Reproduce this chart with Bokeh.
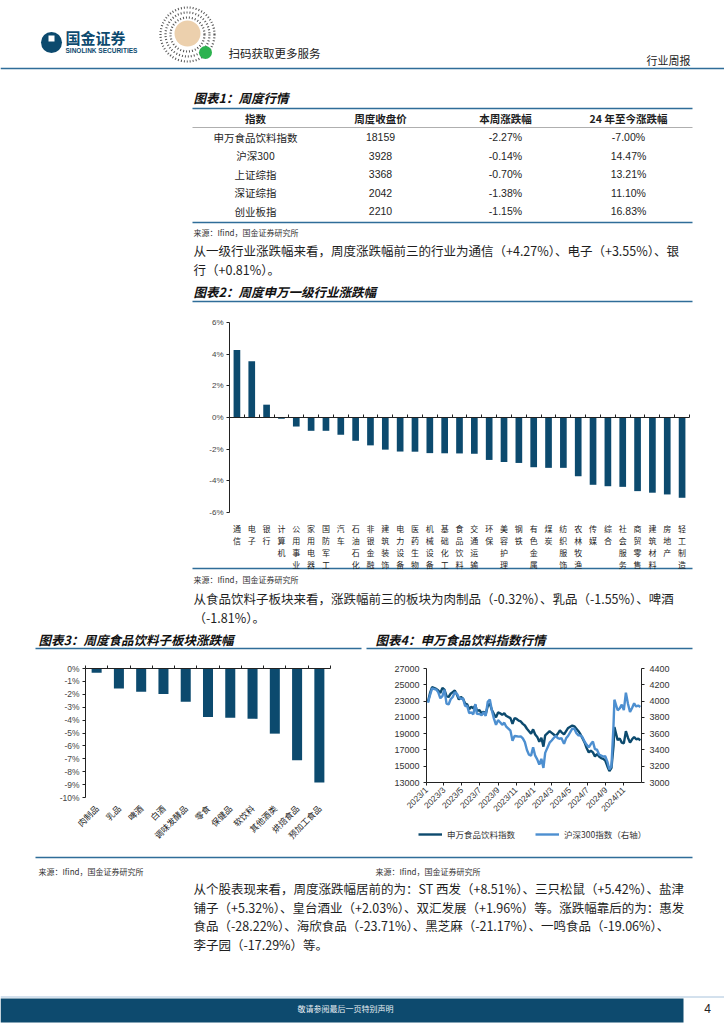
import math
from bokeh.plotting import figure
from bokeh.models import (Range1d, LinearAxis, FixedTicker, PrintfTickFormatter,
                          CustomJSTickFormatter, Legend, LegendItem)
from bokeh.core.properties import value
from bokeh.embed import file_html
from bokeh.resources import INLINE
import pandas as pd

# ---------------- data ----------------
table_headers = ["指数", "周度收盘价", "本周涨跌幅", "24 年至今涨跌幅"]
table_names = ["申万食品饮料指数", "沪深300", "上证综指", "深证综指", "创业板指"]
table_close = ["18159", "3928", "3368", "2042", "2210"]
table_week = ["-2.27%", "-0.14%", "-0.70%", "-1.38%", "-1.15%"]
table_ytd = ["-7.00%", "14.47%", "13.21%", "11.10%", "16.83%"]

industries = ["通信", "电子", "银行", "计算机", "公用事业", "家用电器", "国防军工", "汽车",
              "石油石化", "非银金融", "建筑装饰", "电力设备", "医药生物", "机械设备", "基础化工",
              "食品饮料", "交通运输", "环保", "美容护理", "钢铁", "有色金属", "煤炭", "纺织服饰",
              "农林牧渔", "传媒", "综合", "社会服务", "商贸零售", "建筑材料", "房地产", "轻工制造"]
industry_chg = [4.27, 3.55, 0.81, -0.08, -0.57, -0.84, -0.84, -1.09, -1.47, -1.76, -2.03,
                -2.15, -2.16, -2.25, -2.26, -2.27, -2.29, -2.68, -2.81, -2.87, -3.14, -3.18,
                -3.18, -3.71, -4.25, -4.34, -4.38, -4.65, -4.75, -4.86, -5.07]

sub_sectors = ["肉制品", "乳品", "啤酒", "白酒", "调味发酵品", "零食", "保健品", "软饮料",
               "其他酒类", "烘焙食品", "预加工食品"]
sub_chg = [-0.32, -1.55, -1.81, -1.97, -2.57, -3.75, -3.82, -3.90, -5.05, -7.11, -8.84]

weeks = ["2023-01-06", "2023-01-13", "2023-01-20", "2023-02-03", "2023-02-10", "2023-02-17",
         "2023-02-24", "2023-03-03", "2023-03-10", "2023-03-17", "2023-03-24", "2023-03-31",
         "2023-04-07", "2023-04-14", "2023-04-21", "2023-04-28", "2023-05-05", "2023-05-12",
         "2023-05-19", "2023-05-26", "2023-06-02", "2023-06-09", "2023-06-16", "2023-06-21",
         "2023-06-30", "2023-07-07", "2023-07-14", "2023-07-21", "2023-07-28", "2023-08-04",
         "2023-08-11", "2023-08-18", "2023-08-25", "2023-09-01", "2023-09-08", "2023-09-15",
         "2023-09-22", "2023-09-28", "2023-10-13", "2023-10-20", "2023-10-27", "2023-11-03",
         "2023-11-10", "2023-11-17", "2023-11-24", "2023-12-01", "2023-12-08", "2023-12-15",
         "2023-12-22", "2023-12-29",
         "2024-01-05", "2024-01-12", "2024-01-19", "2024-01-26", "2024-02-02", "2024-02-08",
         "2024-02-23", "2024-03-01", "2024-03-08", "2024-03-15", "2024-03-22", "2024-03-29",
         "2024-04-03", "2024-04-12", "2024-04-19", "2024-04-26", "2024-05-10", "2024-05-17",
         "2024-05-24", "2024-05-31", "2024-06-07", "2024-06-14", "2024-06-21", "2024-06-28",
         "2024-07-05", "2024-07-12", "2024-07-19", "2024-07-26", "2024-08-02", "2024-08-09",
         "2024-08-16", "2024-08-23", "2024-08-30", "2024-09-06", "2024-09-13", "2024-09-20",
         "2024-09-27", "2024-09-30", "2024-10-11", "2024-10-18", "2024-10-25", "2024-11-01",
         "2024-11-08", "2024-11-15", "2024-11-22", "2024-11-29", "2024-12-06", "2024-12-13",
         "2024-12-20", "2024-12-27"]
food_index = [22900, 24000, 24700, 24500, 24300, 24000, 24600, 24400, 23600, 23500, 23900, 24100,
              24300, 23800, 23200, 23500, 23300, 22700, 22600, 22000, 22300, 22100, 22500, 21800,
              21900, 21500, 21700, 21400, 22400, 22700, 21900, 21400, 21000, 21600, 21500, 21300,
              21500, 21200, 20900, 20200, 20900, 20800, 20600, 20500, 20200, 20000, 19600, 19300,
              19000, 19526,
              18900, 18600, 18000, 18500, 17400, 18800, 19300, 19100, 18900, 18700, 19000, 19400,
              19200, 18900, 19300, 19700, 20000, 19900, 19600, 19300, 18900, 18400, 17900, 17200,
              16700, 16900, 16700, 16200, 16500, 16200, 16000, 15900, 15700, 15000, 14400, 14800,
              17500, 19800, 18200, 18400, 17900, 17800, 19300, 18500, 17900, 18300, 18600, 18300,
              18400, 18159]
csi300 = [3980, 4074, 4156, 4141, 4107, 4034, 4061, 4141, 3968, 3958, 4022, 4051,
          4108, 4091, 4044, 4029, 4033, 3939, 3944, 3850, 3862, 3837, 3963, 3844,
          3842, 3826, 3862, 3818, 3992, 4020, 3884, 3784, 3709, 3765, 3740, 3708,
          3735, 3690, 3637, 3514, 3571, 3568, 3564, 3566, 3542, 3496, 3399, 3341,
          3330, 3431,
          3329, 3284, 3219, 3290, 3179, 3364, 3489, 3516, 3546, 3573, 3545, 3537,
          3546, 3475, 3542, 3574, 3661, 3660, 3605, 3579, 3578, 3553, 3500, 3462,
          3432, 3472, 3502, 3409, 3402, 3344, 3331, 3318, 3322, 3257, 3160, 3201,
          3703, 4017, 3887, 3910, 3957, 3890, 4104, 3968, 3865, 3916, 3973, 3933,
          3946, 3928]
date_ticks = ["2023-01-01", "2023-03-01", "2023-05-01", "2023-07-01", "2023-09-01", "2023-11-01",
              "2024-01-01", "2024-03-01", "2024-05-01", "2024-07-01", "2024-09-01", "2024-11-01"]

source_text = "来源：Ifind，国金证券研究所"
para1 = ["从一级行业涨跌幅来看，周度涨跌幅前三的行业为通信（+4.27%）、电子（+3.55%）、银",
         "行（+0.81%）。"]
para2 = ["从食品饮料子板块来看，涨跌幅前三的板块为肉制品（-0.32%）、乳品（-1.55%）、啤酒",
         "（-1.81%）。"]
para3 = ["从个股表现来看，周度涨跌幅居前的为：ST 西发（+8.51%）、三只松鼠（+5.42%）、盐津",
         "铺子（+5.32%）、皇台酒业（+2.03%）、双汇发展（+1.96%）等。涨跌幅靠后的为：惠发",
         "食品（-28.22%）、海欣食品（-23.71%）、黑芝麻（-21.17%）、一鸣食品（-19.06%）、",
         "李子园（-17.29%）等。"]

# ---------------- style ----------------
FONT = "Noto Sans CJK SC"
NUMF = "Liberation Sans"
NAVY = "#0c4a6e"
LIGHT = "#4d8fd0"
RULE = "#2f6d99"
TXT = "#1e1e1e"

# page: one figure whose default ranges are page pixels
PX0, PX1, PY0, PY1 = 0, 724, 0, 1024
page = figure(width=PX1 - PX0, height=PY1 - PY0, x_range=Range1d(PX0, PX1),
              y_range=Range1d(PY1, PY0), output_backend="svg", toolbar_location=None,
              x_axis_location=None, y_axis_location=None)
page.min_border_left = page.min_border_right = page.min_border_top = page.min_border_bottom = 0
page.outline_line_color = None
page.xgrid.visible = False
page.ygrid.visible = False


def xrange_for(v0, v1, p0, p1):
    k = (v1 - v0) / (p1 - p0)
    return Range1d(v0 + (PX0 - p0) * k, v0 + (PX1 - p0) * k)


def yrange_for(v0, v1, p0, p1):
    # v0 drawn at page pixel p0 (lower), v1 at p1 (upper)
    k = (v1 - v0) / (p1 - p0)
    return Range1d(v0 + (PY1 - p0) * k, v0 + (PY0 - p0) * k)


def T(x, y, s, size=12.5, color=TXT, align="left", style="normal", font=FONT):
    page.text(x=[x], y=[y], text=[s], text_font=value(font), text_font_size=f"{size}px",
              text_color=color, text_align=align, text_baseline="middle", text_font_style=style)


def HL(x0, x1, y, color=RULE, w=1.5):
    page.segment(x0=[x0], y0=[y], x1=[x1], y1=[y], line_color=color, line_width=w)


def style_axis(ax, size="8px", color="#333", font=NUMF, standoff=3):
    ax.axis_line_color = "#222"
    ax.axis_line_width = 1
    ax.major_tick_line_color = "#222"
    ax.major_tick_out = 3
    ax.major_tick_in = 0
    ax.minor_tick_line_color = None
    ax.major_label_text_font = font
    ax.major_label_text_font_size = size
    ax.major_label_text_color = color
    ax.major_label_standoff = standoff


# ---------------- header ----------------
page.circle(x=[51], y=[42], radius=10.5, fill_color=NAVY, line_color=None)
page.quad(left=[48], right=[54], top=[35], bottom=[41], fill_color="white", line_color=None)
T(65, 37, "国金证券", size=15, color=NAVY, style="bold")
T(65, 49.5, "SINOLINK SECURITIES", size=6.5, color=NAVY, style="bold", font=NUMF)
for r in (27, 22, 17):
    page.circle(x=[187], y=[34], radius=r, fill_color=None, line_color="#555",
                line_width=2.2, line_dash="1 2")
page.circle(x=[187], y=[33], radius=13, fill_color="#ecd0ad", line_color=None)
page.circle(x=[205], y=[52], radius=6.5, fill_color="#2cb24f", line_color=None)
T(228, 52, "扫码获取更多服务", size=11.5, color="#222")
T(690, 59, "行业周报", size=11, color="#222", align="right")
HL(PX0, PX1, 68, color=RULE, w=1.5)

# ---------------- table ----------------
T(193, 97, "图表1：周度行情", size=12.5, style="bold italic", color="#111")
col_x = [255, 380, 505, 628]
HL(192, 692, 108, w=1.6)
for cx, h in zip(col_x, table_headers):
    T(cx, 117.5, h, size=10.5, align="center", style="bold")
HL(192, 692, 127, color="#9a9a9a", w=0.8)
row_y = [136.5, 155, 173.5, 192, 210.5]
for i, ry in enumerate(row_y):
    T(col_x[0], ry, table_names[i], size=10.5, align="center")
    T(col_x[1], ry, table_close[i], size=10.5, align="center", font=NUMF)
    T(col_x[2], ry, table_week[i], size=10.5, align="center", font=NUMF)
    T(col_x[3], ry, table_ytd[i], size=10.5, align="center", font=NUMF)
HL(192, 692, 222, w=1.6)
T(193, 231.5, source_text, size=8, color="#333")
T(193, 250, para1[0])
T(193, 268.5, para1[1])
T(193, 291, "图表2：周度申万一级行业涨跌幅", size=12.5, style="bold italic", color="#111")
HL(192, 692, 301)

# ---------------- chart 2 (frame x 229..689, y 512..322) ----------------
n = len(industries)
page.extra_x_ranges["c2x"] = xrange_for(0, n, 229, 689)
page.extra_y_ranges["c2y"] = yrange_for(-6, 6, 512, 322)
xs2 = [i + 0.5 for i in range(n)]
page.vbar(x=xs2, top=industry_chg, bottom=0, width=0.45, fill_color=NAVY, line_color=None,
          x_range_name="c2x", y_range_name="c2y")
ya2 = LinearAxis(y_range_name="c2y", fixed_location=229, bounds=(-6, 6),
                 ticker=FixedTicker(ticks=[-6, -4, -2, 0, 2, 4, 6]),
                 formatter=PrintfTickFormatter(format="%d%%"))
style_axis(ya2, color="#444")
page.add_layout(ya2, "left")
za2 = LinearAxis(x_range_name="c2x", y_range_name="c2y", fixed_location=0, bounds=(0, n),
                 ticker=FixedTicker(ticks=list(range(n + 1))),
                 formatter=CustomJSTickFormatter(code="return '';"))
style_axis(za2)
za2.major_tick_out = 0
za2.major_tick_in = 3
za2.major_label_text_font_size = "0px"
page.add_layout(za2, "below")
xa2 = LinearAxis(x_range_name="c2x", fixed_location=512, bounds=(0, n),
                 ticker=FixedTicker(ticks=xs2),
                 formatter=CustomJSTickFormatter(args=dict(names=["\n".join(s) for s in industries]),
                                                 code="return names[Math.floor(tick)];"))
style_axis(xa2, size="8px", color="#222", font=FONT, standoff=7)
xa2.major_label_text_line_height = 1.12
xa2.axis_line_color = None
xa2.major_tick_line_color = None
page.add_layout(xa2, "below")
HL(192, 692, 568)
T(193, 578.5, source_text, size=8, color="#333")
T(193, 598, para2[0])
T(193, 616.5, para2[1])
T(38, 638.5, "图表3：周度食品饮料子板块涨跌幅", size=12.5, style="bold italic", color="#111")
T(375, 638.5, "图表4：申万食品饮料指数行情", size=12.5, style="bold italic", color="#111")
HL(35, 361, 648)
HL(366, 692, 648)

# ---------------- chart 3 (frame x 85..330, y 797..668) ----------------
m = len(sub_sectors)
page.extra_x_ranges["c3x"] = xrange_for(0, m, 85, 330)
page.extra_y_ranges["c3y"] = yrange_for(-10, 0, 797, 668)
xs3 = [i + 0.5 for i in range(m)]
page.vbar(x=xs3, top=sub_chg, bottom=0, width=0.45, fill_color=NAVY, line_color=None,
          x_range_name="c3x", y_range_name="c3y")
ta3 = LinearAxis(x_range_name="c3x", y_range_name="c3y", fixed_location=0, bounds=(0, m),
                 ticker=FixedTicker(ticks=list(range(m + 1))),
                 formatter=CustomJSTickFormatter(code="return '';"))
style_axis(ta3)
ta3.major_label_text_font_size = "0px"
page.add_layout(ta3, "above")
ya3 = LinearAxis(y_range_name="c3y", fixed_location=85, bounds=(-10, 0),
                 ticker=FixedTicker(ticks=list(range(-10, 1))),
                 formatter=PrintfTickFormatter(format="%d%%"))
style_axis(ya3, size="8.5px", color="#444")
page.add_layout(ya3, "left")
xa3 = LinearAxis(x_range_name="c3x", fixed_location=797, bounds=(0, m),
                 ticker=FixedTicker(ticks=xs3),
                 formatter=CustomJSTickFormatter(args=dict(names=sub_sectors),
                                                 code="return names[Math.floor(tick)];"))
style_axis(xa3, size="8.5px", color="#222", font=FONT, standoff=6)
xa3.axis_line_color = None
xa3.major_tick_line_color = None
xa3.major_label_orientation = math.pi / 4
page.add_layout(xa3, "below")

# ---------------- chart 4 (frame x 426..641, y 782..668) ----------------
dates = pd.to_datetime(weeks)
t0 = pd.Timestamp("2023-01-01").value / 1e6
t1 = pd.Timestamp("2024-12-31").value / 1e6
page.extra_x_ranges["c4x"] = xrange_for(t0, t1, 426, 641)
page.extra_y_ranges["c4l"] = yrange_for(13000, 27000, 782, 668)
page.extra_y_ranges["c4r"] = yrange_for(3000, 4400, 782, 668)
r_food = page.line(x=dates, y=food_index, line_color=NAVY, line_width=2.4,
                   x_range_name="c4x", y_range_name="c4l")
r_csi = page.line(x=dates, y=csi300, line_color=LIGHT, line_width=2.4,
                  x_range_name="c4x", y_range_name="c4r")
ya4 = LinearAxis(y_range_name="c4l", fixed_location=426, bounds=(13000, 27000),
                 ticker=FixedTicker(ticks=list(range(13000, 27001, 2000))),
                 formatter=PrintfTickFormatter(format="%d"))
style_axis(ya4, size="9px", standoff=4)
page.add_layout(ya4, "left")
yr4 = LinearAxis(y_range_name="c4r", fixed_location=641, bounds=(3000, 4400),
                 ticker=FixedTicker(ticks=list(range(3000, 4401, 200))),
                 formatter=PrintfTickFormatter(format="%d"))
style_axis(yr4, size="9px", standoff=5)
page.add_layout(yr4, "right")
tick_ms = [pd.Timestamp(d).value / 1e6 for d in date_ticks]
xa4 = LinearAxis(x_range_name="c4x", fixed_location=782, bounds=(t0, t1),
                 ticker=FixedTicker(ticks=tick_ms),
                 formatter=CustomJSTickFormatter(
                     code="const d = new Date(tick); return d.getUTCFullYear() + '/' + (d.getUTCMonth() + 1);"))
style_axis(xa4, size="8.5px", standoff=3)
xa4.major_label_orientation = math.pi / 4
page.add_layout(xa4, "below")
leg = Legend(items=[LegendItem(label="申万食品饮料指数", renderers=[r_food]),
                    LegendItem(label="沪深300指数（右轴）", renderers=[r_csi])],
             orientation="horizontal", location=(418 - PX0, PY1 - 840))
leg.label_text_font = FONT
leg.label_text_font_size = "8.5px"
leg.label_text_color = "#333"
leg.glyph_width = 24
leg.glyph_height = 12
leg.label_height = 12
leg.label_standoff = 5
leg.spacing = 20
leg.border_line_color = None
leg.background_fill_alpha = 0
leg.padding = 0
leg.margin = 0
page.add_layout(leg)

# ---------------- bottom ----------------
HL(35, 692, 857)
T(38, 871, source_text, size=8, color="#333")
T(375, 871, source_text, size=8, color="#333")
for i, ly in enumerate([888, 906.5, 925, 943.5]):
    T(193, ly, para3[i])
HL(PX0, PX1, 996.5, color="#a8c3dc", w=1)
page.quad(left=[PX0], right=[683], top=[998], bottom=[1022], fill_color="#0d4a6e", line_color=None)
T(345, 1008, "敬请参阅最后一页特别声明", size=8, color="#e8eef3", align="center")
T(707, 1008, "4", size=12, color="#222", align="center", font=NUMF)

open("out.html", "w").write(file_html(page, INLINE))
